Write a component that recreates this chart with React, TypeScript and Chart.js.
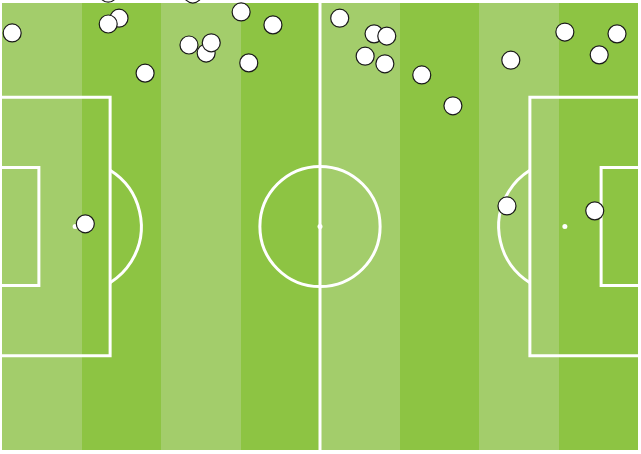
import React, { useEffect, useRef } from "react";
import { Chart, registerables } from "chart.js";

Chart.register(...registerables);

// Event locations in Opta-style pitch coordinates (0-100 on both axes)
const eventX: number[] = [
  1.6, 18.4, 16.7, 16.7, 22.5, 30.0, 29.4, 32.1, 32.9, 37.6, 42.6, 38.8,
  53.1, 58.5, 60.5, 57.1, 60.2, 66.0, 70.9, 80.0, 88.5, 96.7, 93.9,
  13.1, 79.4, 93.2,
];
const eventY: number[] = [
  93.3, 96.6, 95.3, 102.2, 84.3, 102.0, 90.6, 88.8, 91.1, 98.0, 95.1, 86.6,
  96.6, 93.1, 92.6, 88.1, 86.4, 83.9, 77.0, 87.2, 93.5, 93.1, 88.4,
  50.6, 54.6, 53.5,
];

// Pitch markings (Opta units)
const stripeCount = 8;
const stripeColors = ["#a3cd6b", "#8dc443"];
const penaltyBoxDepth = 17;
const penaltyBoxY: [number, number] = [21.1, 78.9];
const goalAreaDepth = 5.8;
const goalAreaY: [number, number] = [36.8, 63.2];
const penaltySpotX = 11.5;
const circleRadiusY = 13.45; // centre circle radius in y units
const arcRadiusY = 14.8;

const pitchPlugin = {
  id: "pitch",
  beforeDatasetsDraw(chart: any) {
    const { ctx, chartArea, scales } = chart;
    const xs = scales.x;
    const ys = scales.y;
    const px = (v: number) => xs.getPixelForValue(v);
    const py = (v: number) => ys.getPixelForValue(v);
    ctx.save();
    // stripes
    const w = 100 / stripeCount;
    for (let i = 0; i < stripeCount; i++) {
      ctx.fillStyle = stripeColors[i % 2];
      const x0 = Math.round(px(i * w));
      const x1 = Math.round(px((i + 1) * w));
      ctx.fillRect(x0, chartArea.top, x1 - x0, chartArea.bottom - chartArea.top);
    }
    ctx.strokeStyle = "#ffffff";
    ctx.fillStyle = "#ffffff";
    ctx.lineWidth = 3;
    const cy = py(50);
    const unitY = Math.abs(py(0) - py(1));
    // halfway line
    ctx.beginPath();
    ctx.moveTo(px(50), chartArea.top);
    ctx.lineTo(px(50), chartArea.bottom);
    ctx.stroke();
    // centre circle
    ctx.beginPath();
    ctx.arc(px(50), cy, circleRadiusY * unitY, 0, Math.PI * 2);
    ctx.stroke();
    ctx.beginPath();
    ctx.arc(px(50), cy, 2.5, 0, Math.PI * 2);
    ctx.fill();
    // boxes
    const drawBox = (xEdge: number, xIn: number, y0: number, y1: number) => {
      ctx.beginPath();
      ctx.moveTo(px(xEdge), py(y0));
      ctx.lineTo(px(xIn), py(y0));
      ctx.lineTo(px(xIn), py(y1));
      ctx.lineTo(px(xEdge), py(y1));
      ctx.stroke();
    };
    drawBox(0, penaltyBoxDepth, penaltyBoxY[0], penaltyBoxY[1]);
    drawBox(100, 100 - penaltyBoxDepth, penaltyBoxY[0], penaltyBoxY[1]);
    drawBox(0, goalAreaDepth, goalAreaY[0], goalAreaY[1]);
    drawBox(100, 100 - goalAreaDepth, goalAreaY[0], goalAreaY[1]);
    // penalty spots and arcs
    const r = arcRadiusY * unitY;
    const sides = [
      { spot: penaltySpotX, edge: penaltyBoxDepth, dir: 1 },
      { spot: 100 - penaltySpotX, edge: 100 - penaltyBoxDepth, dir: -1 },
    ];
    for (const s of sides) {
      const sx = px(s.spot);
      ctx.beginPath();
      ctx.arc(sx, cy, 2.5, 0, Math.PI * 2);
      ctx.fill();
      const dx = Math.abs(px(s.edge) - sx);
      const a = Math.acos(Math.min(1, dx / r));
      ctx.beginPath();
      if (s.dir === 1) ctx.arc(sx, cy, r, -a, a);
      else ctx.arc(sx, cy, r, Math.PI - a, Math.PI + a);
      ctx.stroke();
    }
    ctx.restore();
  },
};

export default function App() {
  const ref = useRef<HTMLCanvasElement | null>(null);
  useEffect(() => {
    document.body.style.margin = "0";
    if (!ref.current) return;
    const chart = new Chart(ref.current, {
      type: "scatter",
      data: {
        datasets: [
          {
            data: eventX.map((x, i) => ({ x, y: eventY[i] })),
            backgroundColor: "#ffffff",
            borderColor: "#1a1a1a",
            borderWidth: 1.2,
            pointRadius: 9,
            pointHoverRadius: 9,
            clip: false as any,
          },
        ],
      },
      options: {
        responsive: false,
        animation: false,
        layout: { autoPadding: false, padding: { left: 2, top: 3, right: 3, bottom: 4 } },
        plugins: { legend: { display: false }, tooltip: { enabled: false } },
        scales: {
          x: { type: "linear", min: 0, max: 100, display: false },
          y: { type: "linear", min: 0, max: 100, display: false },
        },
      },
      plugins: [pitchPlugin],
    });
    return () => chart.destroy();
  }, []);
  return (
    <div style={{ position: "absolute", left: 0, top: 0, width: 641, height: 454 }}>
      <canvas ref={ref} width={641} height={454} />
    </div>
  );
}
